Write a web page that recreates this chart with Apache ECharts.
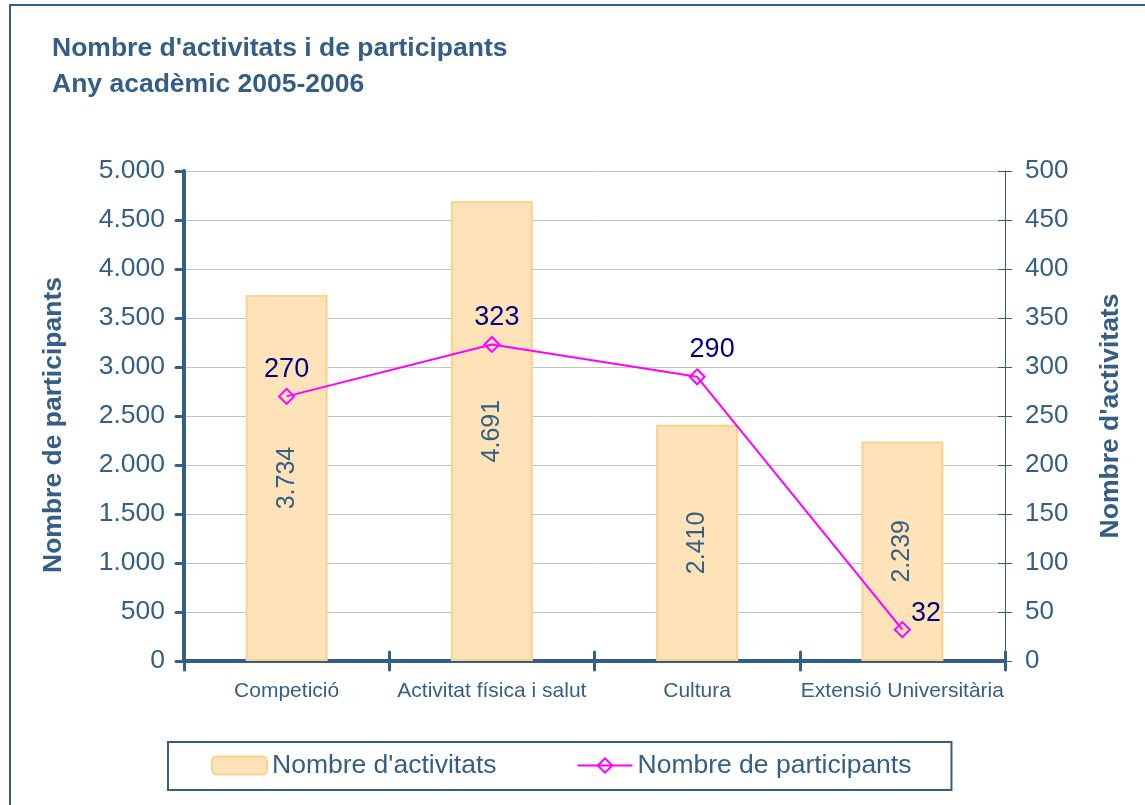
<!DOCTYPE html>
<html>
<head>
<meta charset="utf-8">
<title>Nombre d'activitats i de participants</title>
<script src="https://cdn.jsdelivr.net/npm/echarts@6/dist/echarts.min.js"></script>
<style>
    html, body {
        margin: 0;
        padding: 0;
        background: #ffffff;
    }
    #chart {
        width: 1145px;
        height: 805px;
    }
</style>
</head>
<body>
<div id="chart"></div>
<script>
// dades llegides del gràfic
const categories = ['Competició', 'Activitat física i salut', 'Cultura', 'Extensió Universitària'];
const barValues = [3734, 4691, 2410, 2239];   // eix esquerre
const lineValues = [270, 323, 290, 32];       // eix dret
const leftTicks = { min: 0, max: 5000, interval: 500 };
const rightTicks = { min: 0, max: 500, interval: 50 };

const blue = '#355e87';
const font = "'Liberation Sans', Arial, sans-serif";

// punt = separador de milers
const fmt = v => String(v).replace(/\B(?=(\d{3})+(?!\d))/g, '.');

let chartDom = document.getElementById('chart');
let myChart = echarts.init(chartDom, null, { renderer: 'canvas' });
let option;

// petits ajustos d'etiqueta per punt, com a l'original
const lineLabelTweaks = [
    { position: 'top', offset: [0, 0] },
    { position: 'top', offset: [5, 0] },
    { position: 'top', offset: [15, 0] },
    { position: 'right', offset: [-5, -16] }
];

option = {
    backgroundColor: '#ffffff',
    textStyle: { fontFamily: font },
    graphic: [{
        type: 'rect',
        silent: true,
        shape: { x: 10, y: 5, width: 1200, height: 900 },
        style: { fill: 'none', stroke: blue, lineWidth: 2 }
    }],
    title: {
        text: "Nombre d'activitats i de participants\nAny acadèmic 2005-2006",
        left: 52,
        top: 31,
        padding: 0,
        textStyle: {
            color: blue,
            fontSize: 26.5,
            fontWeight: 'bold',
            lineHeight: 36,
            fontFamily: font
        }
    },
    legend: {
        left: 168,
        top: 742,
        padding: [10, 40, 11, 43],
        borderColor: blue,
        borderWidth: 2,
        itemWidth: 55,
        itemHeight: 18,
        itemGap: 80,
        textStyle: { color: blue, fontSize: 26.5, fontFamily: font },
        data: ["Nombre d'activitats", 'Nombre de participants']
    },
    grid: {
        left: 184,
        right: 140,
        top: 171,
        bottom: 144,
        containLabel: false
    },
    xAxis: [{
        type: 'category',
        data: categories,
        boundaryGap: true,
        axisLine: { lineStyle: { color: blue, width: 4, cap: 'round' } },
        axisTick: { show: true, interval: 0, length: 9, lineStyle: { color: blue, width: 3, cap: 'round' } },
        axisLabel: { color: blue, fontSize: 21, margin: 20, interval: 0, fontFamily: font }
    }, {
        // marques cap a dins (les marques creuen l'eix)
        type: 'category',
        data: categories,
        position: 'bottom',
        boundaryGap: true,
        axisLine: { show: false },
        axisTick: { show: true, inside: true, interval: 0, length: 9, lineStyle: { color: blue, width: 3, cap: 'round' } },
        axisLabel: { show: false },
        splitLine: { show: false }
    }],
    yAxis: [{
        type: 'value',
        position: 'left',
        min: leftTicks.min,
        max: leftTicks.max,
        interval: leftTicks.interval,
        name: 'Nombre de participants',
        nameLocation: 'middle',
        nameRotate: 90,
        nameGap: 117,
        nameTextStyle: { color: blue, fontSize: 26.5, fontWeight: 'bold', fontFamily: font, padding: [0, 18, 0, 0] },
        axisLine: { show: true, lineStyle: { color: blue, width: 4, cap: 'round' } },
        axisTick: { show: true, length: 8, lineStyle: { color: blue, width: 3, cap: 'round' } },
        axisLabel: { color: blue, fontSize: 26.5, margin: 19, formatter: fmt, fontFamily: font },
        splitLine: { show: true, lineStyle: { color: '#c4c4c4', width: 1 } }
    }, {
        type: 'value',
        position: 'right',
        min: rightTicks.min,
        max: rightTicks.max,
        interval: rightTicks.interval,
        name: "Nombre d'activitats",
        nameLocation: 'middle',
        nameRotate: 90,
        nameGap: 92,
        nameTextStyle: { color: blue, fontSize: 26.5, fontWeight: 'bold', fontFamily: font },
        axisLine: { show: true, lineStyle: { color: blue, width: 1 } },
        axisTick: { show: true, length: 7, lineStyle: { color: blue, width: 1 } },
        axisLabel: { color: blue, fontSize: 26, margin: 20, fontFamily: font },
        splitLine: { show: false }
    }, {
        type: 'value',
        position: 'right',
        min: rightTicks.min,
        max: rightTicks.max,
        interval: rightTicks.interval,
        axisLine: { show: false },
        axisTick: { show: true, inside: true, length: 7, lineStyle: { color: blue, width: 1 } },
        axisLabel: { show: false },
        splitLine: { show: false }
    }],
    series: [
        {
            name: "Nombre d'activitats",
            type: 'bar',
            xAxisIndex: 0,
            yAxisIndex: 0,
            data: barValues,
            barWidth: 82,
            itemStyle: {
                color: '#fde3b7',
                borderColor: '#fcd08e',
                borderWidth: 2
            },
            label: {
                show: true,
                position: 'inside',
                rotate: 90,
                color: blue,
                fontSize: 25,
                fontFamily: font,
                formatter: p => fmt(p.value)
            },
            z: 2
        },
        {
            name: 'Nombre de participants',
            type: 'line',
            xAxisIndex: 0,
            yAxisIndex: 1,
            data: lineValues.map((v, i) => ({
                value: v,
                label: lineLabelTweaks[i]
            })),
            symbol: 'diamond',
            symbolSize: 15,
            lineStyle: { color: '#ff00ff', width: 2 },
            itemStyle: {
                color: 'rgba(255,255,255,0)',
                borderColor: '#ff00ff',
                borderWidth: 2
            },
            label: {
                show: true,
                position: 'top',
                distance: 5,
                color: '#000080',
                fontSize: 27,
                fontFamily: font
            },
            z: 5
        }
    ]
};

option && myChart.setOption(option);
</script>
</body>
</html>
